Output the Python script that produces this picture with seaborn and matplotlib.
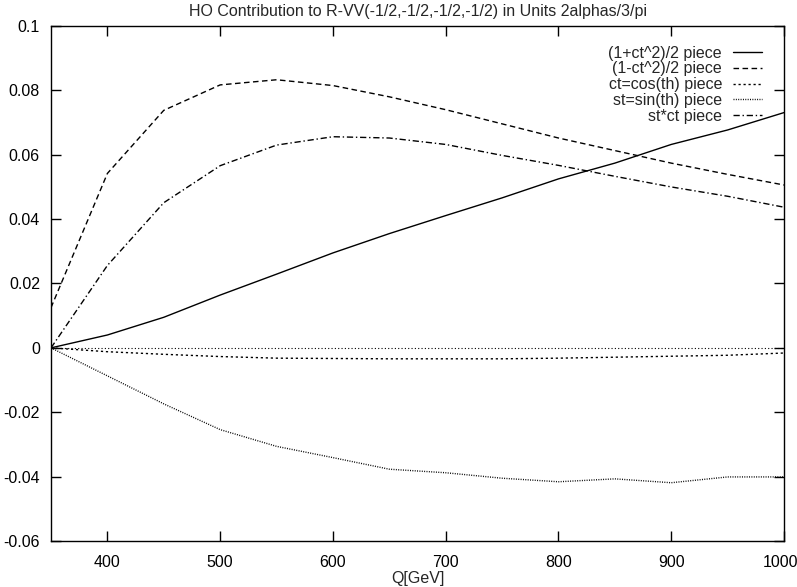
import seaborn as sns
import numpy as np
import matplotlib
matplotlib.use("Agg")
import matplotlib.pyplot as plt
import matplotlib.transforms as mtransforms
import pandas as pd

# Q values (GeV) and the five pieces
q_gev = [350, 400, 450, 500, 550, 600, 650, 700, 750, 800, 850, 900, 950, 1000]
piece_1p = [0.0, 0.0040, 0.0095, 0.0164, 0.0229, 0.0295, 0.0355, 0.0411, 0.0466,
            0.0525, 0.0574, 0.0632, 0.0677, 0.0731]
piece_1m = [0.0125, 0.0542, 0.0738, 0.0817, 0.0833, 0.0815, 0.0780, 0.0740, 0.0696,
            0.0652, 0.0613, 0.0574, 0.0539, 0.0506]
piece_ct = [0.0, -0.0012, -0.0020, -0.0027, -0.0032, -0.0033, -0.0034, -0.0034,
            -0.0034, -0.0032, -0.0029, -0.0026, -0.0023, -0.0016]
piece_st = [0.0, -0.0087, -0.0174, -0.0254, -0.0306, -0.0341, -0.0377, -0.0388,
            -0.0405, -0.0416, -0.0407, -0.0419, -0.0401, -0.0401]
piece_stct = [0.0, 0.0256, 0.0451, 0.0566, 0.0630, 0.0656, 0.0652, 0.0632, 0.0598,
              0.0567, 0.0533, 0.0500, 0.0471, 0.0437]

labels = ["(1+ct^2)/2 piece", "(1-ct^2)/2 piece", "ct=cos(th) piece",
          "st=sin(th) piece", "st*ct piece"]
x_ticks = [400, 500, 600, 700, 800, 900, 1000]
y_ticks = [-0.06, -0.04, -0.02, 0, 0.02, 0.04, 0.06, 0.08, 0.1]
y_ticklabels = ["-0.06", "-0.04", "-0.02", "0", "0.02", "0.04", "0.06", "0.08", "0.1"]

frames = []
for lab, vals in zip(labels, [piece_1p, piece_1m, piece_ct, piece_st, piece_stct]):
    frames.append(pd.DataFrame({"Q": q_gev, "val": vals, "piece": lab}))
df = pd.concat(frames, ignore_index=True)

sns.set_style("ticks")
plt.rcParams['font.family'] = ['Liberation Sans', 'DejaVu Sans']

dash_map = {
    labels[0]: "",
    labels[1]: (4, 2.5),
    labels[2]: (1.6, 2),
    labels[3]: (0.7, 1),
    labels[4]: (4.5, 2, 1, 2),
}

fig = plt.figure(figsize=(7.97, 5.87), dpi=100)
ax = fig.add_axes([0.064, 0.0784, 0.9197, 0.8773])

# zero axis like gnuplot's "set zeroaxis"
ax.axhline(0, color="black", lw=0.8, ls=(0, (1, 2)), zorder=1)

sns.lineplot(data=df, x="Q", y="val", style="piece", style_order=labels,
             dashes=dash_map, color="black", linewidth=1.0, ax=ax, legend=False)

ax.set_xlim(350, 1000)
ax.set_ylim(-0.06, 0.1)
ax.set_xticks(x_ticks)
ax.set_yticks(y_ticks)
ax.set_yticklabels(y_ticklabels)
ax.tick_params(direction="in", top=True, right=True, length=7, width=1,
               labelsize=11.5, colors="black")
ax.tick_params(axis="x", pad=10)
ax.tick_params(axis="y", pad=8)
for sp in ax.spines.values():
    sp.set_linewidth(1.0)
    sp.set_color("black")

# keep "1000" inside the canvas
last = ax.get_xticklabels()[-1]
last.set_transform(last.get_transform() +
                   mtransforms.ScaledTranslation(-4 / 100, 0, fig.dpi_scale_trans))

ax.set_xlabel("Q[GeV]", fontsize=11.5, labelpad=1)
ax.set_ylabel("")
ax.set_title("HO Contribution to R-VV(-1/2,-1/2,-1/2,-1/2) in Units 2alphas/3/pi",
             fontsize=11.5, pad=7)

handles = ax.get_lines()[1:6]
for h, lab in zip(handles, labels):
    h.set_label(lab)
ax.legend(handles=handles, labels=labels, loc="upper right",
          bbox_to_anchor=(0.970, 0.962), frameon=False, markerfirst=False,
          fontsize=11.5, handlelength=1.8, handletextpad=0.7,
          labelspacing=0.05, borderaxespad=0, borderpad=0)

fig.savefig("out.png", dpi=100)
plt.close()
